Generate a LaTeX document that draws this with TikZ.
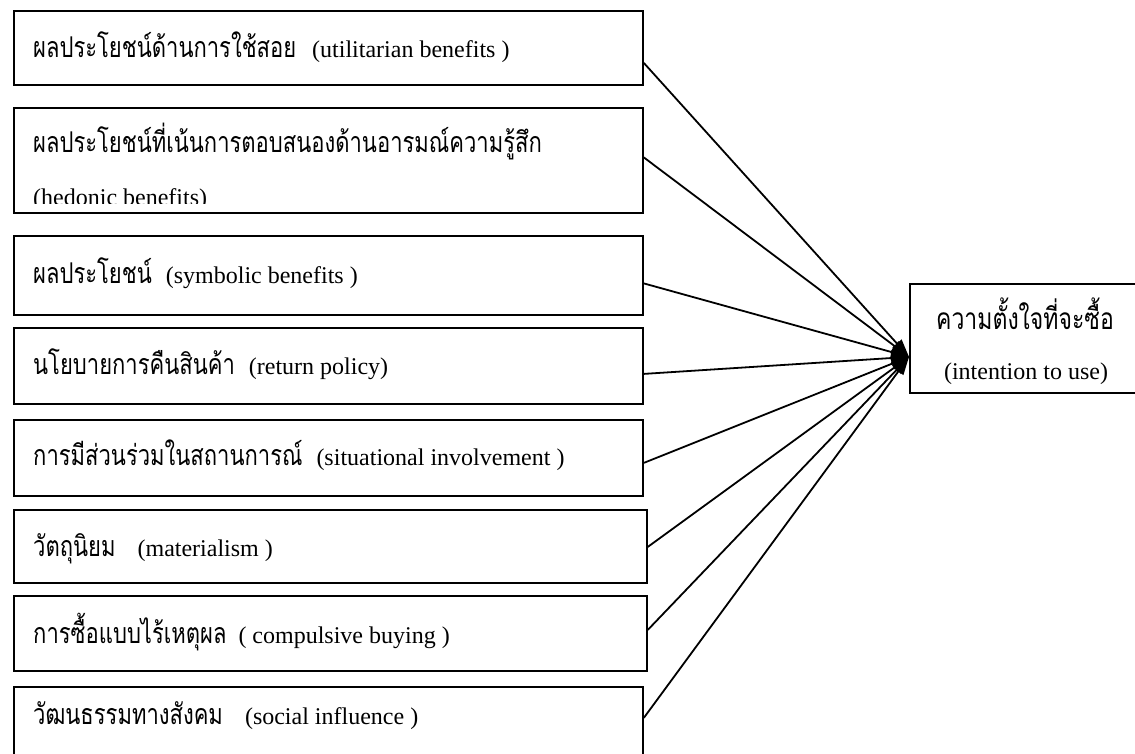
\documentclass[tikz,border=0pt]{standalone}
\usepackage{fontspec}
\usepackage{graphicx}
\setmainfont{Liberation Serif}
\newfontfamily\thai[Script=Thai]{Loma}
\usetikzlibrary{arrows.meta}
\newcommand{\thtxt}[1]{\scalebox{1}[1.3]{\fontsize{22}{26}\selectfont\thai #1}}
\begin{document}
\begin{tikzpicture}[x=1pt,y=-1pt,
  box/.style={draw, line width=1.8pt, minimum width=629pt, inner sep=0pt, anchor=north west},
  lbl/.style={anchor=base west, inner sep=0pt, font=\fontsize{24}{28}\selectfont},
  conn/.style={line width=1.8pt, -{Triangle[length=18pt,width=12pt]}},
]
\path[use as bounding box, clip] (0,0) rectangle (1135,754);

% left boxes
\node[box, minimum height=74pt]  (b1) at (13,10)  {};
\node[box, minimum height=105pt] (b2) at (13,107) {};
\node[box, minimum height=79pt]  (b3) at (13,235) {};
\node[box, minimum height=76pt]  (b4) at (13,327) {};
\node[box, minimum height=76pt]  (b5) at (13,419) {};
\node[box, minimum height=73pt, minimum width=633pt] (b6) at (13,509) {};
\node[box, minimum height=75pt, minimum width=633pt] (b7) at (13,595) {};
\node[box, minimum height=77pt]  (b8) at (13,686) {};

% texts
\node[lbl] (t1) at (33,58) {\thtxt{ผลประโยชน์ด้านการใช้สอย}\hspace{16pt}(utilitarian benefits )};
\node[lbl] (t2a) at (33,153) {\thtxt{ผลประโยชน์ที่เน้นการตอบสนองด้านอารมณ์ความรู้สึก}};
\begin{scope}
  \clip (13,107) rectangle (642,204);
  \node[lbl] (t2b) at (33,206) {(hedonic benefits)};
\end{scope}
\node[lbl] (t3) at (33,283) {\thtxt{ผลประโยชน์}\hspace{14pt}(symbolic benefits )};
\node[lbl] (t4) at (33,374) {\thtxt{นโยบายการคืนสินค้า}\hspace{14pt}(return policy)};
\node[lbl] (t5) at (33,465) {\thtxt{การมีส่วนร่วมในสถานการณ์}\hspace{14pt}(situational involvement )};
\node[lbl] (t6) at (33,556) {\thtxt{วัตถุนิยม}\hspace{22pt}(materialism )};
\node[lbl] (t7) at (33,643) {\thtxt{การซื้อแบบไร้เหตุผล}\hspace{12pt}( compulsive buying )};
\node[lbl] (t8) at (33,724) {\thtxt{วัฒนธรรมทางสังคม}\hspace{22pt}(social influence )};

% outcome box
\node[draw, line width=1.8pt, minimum width=232pt, minimum height=109pt, inner sep=0pt, anchor=north west] (out) at (909,283) {};
\node[anchor=base, inner sep=0pt] (o1) at (1025,329) {\scalebox{1}[1.3]{\fontsize{23}{26}\selectfont\thai ความตั้งใจที่จะซื้อ}};
\node[anchor=base, inner sep=0pt, font=\fontsize{24}{28}\selectfont] (o2) at (1026,379) {(intention to use)};

\coordinate (tip) at ([yshift=-18.5pt]out.west);

% connectors
\draw[conn] ([yshift=-15pt]b1.east) -- (tip);
\draw[conn] ([yshift=3pt]b2.east) -- (tip);
\draw[conn] ([yshift=-8pt]b3.east) -- (tip);
\draw[conn] ([yshift=-8pt]b4.east) -- (tip);
\draw[conn] ([yshift=-5pt]b5.east) -- (tip);
\draw[conn] ([yshift=-0.5pt]b6.east) -- (tip);
\draw[conn] ([yshift=3.5pt]b7.east) -- (tip);
\draw[conn] ([yshift=7.5pt]b8.east) -- (tip);
\end{tikzpicture}
\end{document}
